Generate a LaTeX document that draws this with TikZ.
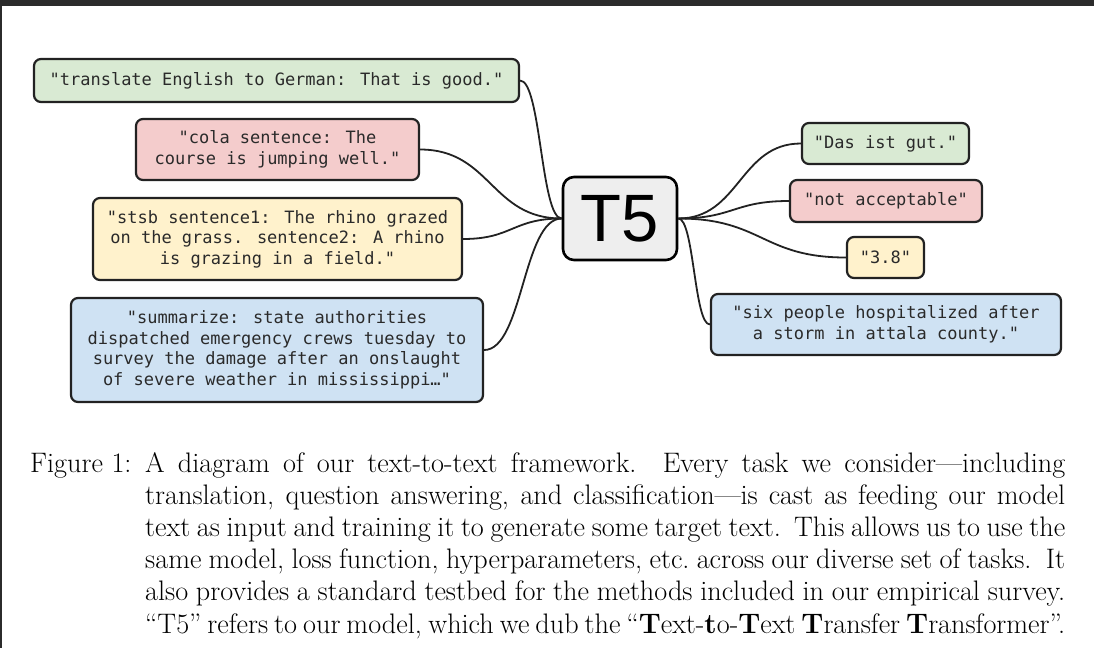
\documentclass[tikz,border=0pt]{standalone}
\usepackage{fontspec}
\newfontfamily\monof{DejaVu Sans Mono}
\newfontfamily\sansf{Liberation Sans}
\usetikzlibrary{calc}
\definecolor{gfill}{HTML}{D9EAD3}
\definecolor{rfill}{HTML}{F4CCCC}
\definecolor{yfill}{HTML}{FFF2CC}
\definecolor{bfill}{HTML}{CFE2F3}
\definecolor{tfill}{HTML}{EEEEEE}
\definecolor{edgec}{HTML}{222222}
\definecolor{txtc}{HTML}{2A2A2A}
\definecolor{framec}{HTML}{2B2B2B}
\newcommand\curvelink[2]{\draw[link] let \p1=(#1), \p2=(#2) in (\p1) .. controls ({(\x1+\x2)/2},\y1) and ({(\x1+\x2)/2},\y2) .. (\p2);}
\begin{document}
\begin{tikzpicture}[x=1pt,y=-1pt,
  textbox/.style={draw=edgec, line width=2.2pt, rounded corners=7pt, inner sep=0pt,
    align=center, text=txtc, font=\monof\fontsize{17}{20.5}\selectfont},
  t5box/.style={draw=black, line width=2.6pt, rounded corners=11pt, inner sep=0pt,
    fill=tfill, font=\sansf\fontsize{67}{67}\selectfont},
  link/.style={draw=edgec, line width=1.8pt},
  capline/.style={anchor=base west, inner sep=0pt, font=\fontsize{28.2}{31}\selectfont},
  framebar/.style={fill=framec, draw=none}
]
\useasboundingbox (0,0) rectangle (1094,648);
\fill[white] (0,0) rectangle (1094,648);
\fill[framebar] (0,0) rectangle (1094,6);
\fill[framebar] (0,0) rectangle (2,648);

% inputs
\node[textbox, fill=gfill, minimum width=485pt, minimum height=43pt] (in1) at (276.5,80.5)
  {"translate English to German: That is good."};
\node[textbox, fill=rfill, minimum width=283pt, minimum height=61pt] (in2) at (277.5,149.5)
  {"cola sentence: The\\course is jumping well."};
\node[textbox, fill=yfill, minimum width=369pt, minimum height=82pt] (in3) at (277.5,239)
  {"stsb sentence1: The rhino grazed\\on the grass. sentence2: A rhino\\is grazing in a field."};
\node[textbox, fill=bfill, minimum width=412pt, minimum height=104pt] (in4) at (277,350)
  {"summarize: state authorities\\dispatched emergency crews tuesday to\\survey the damage after an onslaught\\of severe weather in mississippi…"};

% model
\node[t5box, minimum width=114pt, minimum height=83pt] (t5) at (620,218.5) {T5};

% outputs
\node[textbox, fill=gfill, minimum width=167pt, minimum height=41pt] (out1) at (885.5,143.5)
  {"Das ist gut."};
\node[textbox, fill=rfill, minimum width=192pt, minimum height=42pt] (out2) at (886,201)
  {"not acceptable"};
\node[textbox, fill=yfill, minimum width=77pt, minimum height=41pt] (out3) at (885.5,257.5)
  {"3.8"};
\node[textbox, fill=bfill, minimum width=350pt, minimum height=61pt] (out4) at (886,324.5)
  {"six people hospitalized after\\a storm in attala county."};

% connectors
\curvelink{in1.east}{t5.west}
\curvelink{in2.east}{t5.west}
\curvelink{in3.east}{t5.west}
\curvelink{in4.east}{t5.west}
\curvelink{t5.east}{out1.west}
\curvelink{t5.east}{out2.west}
\curvelink{t5.east}{out3.west}
\curvelink{t5.east}{out4.west}

% caption
\node[capline] (figlab) at (30,472) {Figure 1:};
\node[capline] (cap1) at (145,472) {\makebox[920pt][s]{A diagram of our text-to-text framework.\ \ Every task we consider---including}};
\node[capline] (cap2) at (145,504.2) {\makebox[920pt][s]{translation, question answering, and classification---is cast as feeding our model}};
\node[capline] (cap3) at (145,536.4) {\makebox[920pt][s]{text as input and training it to generate some target text.\ \ This allows us to use the}};
\node[capline] (cap4) at (145,568.6) {\makebox[920pt][s]{same model, loss function, hyperparameters, etc.\ across our diverse set of tasks.\ \ It}};
\node[capline] (cap5) at (145,600.8) {\makebox[920pt][s]{also provides a standard testbed for the methods included in our empirical survey.}};
\node[capline] (cap6) at (145,633) {\makebox[920pt][s]{``T5'' refers to our model, which we dub the ``\textbf{T}ext-\textbf{t}o-\textbf{T}ext \textbf{T}ransfer \textbf{T}ransformer''.}};
\end{tikzpicture}
\end{document}
